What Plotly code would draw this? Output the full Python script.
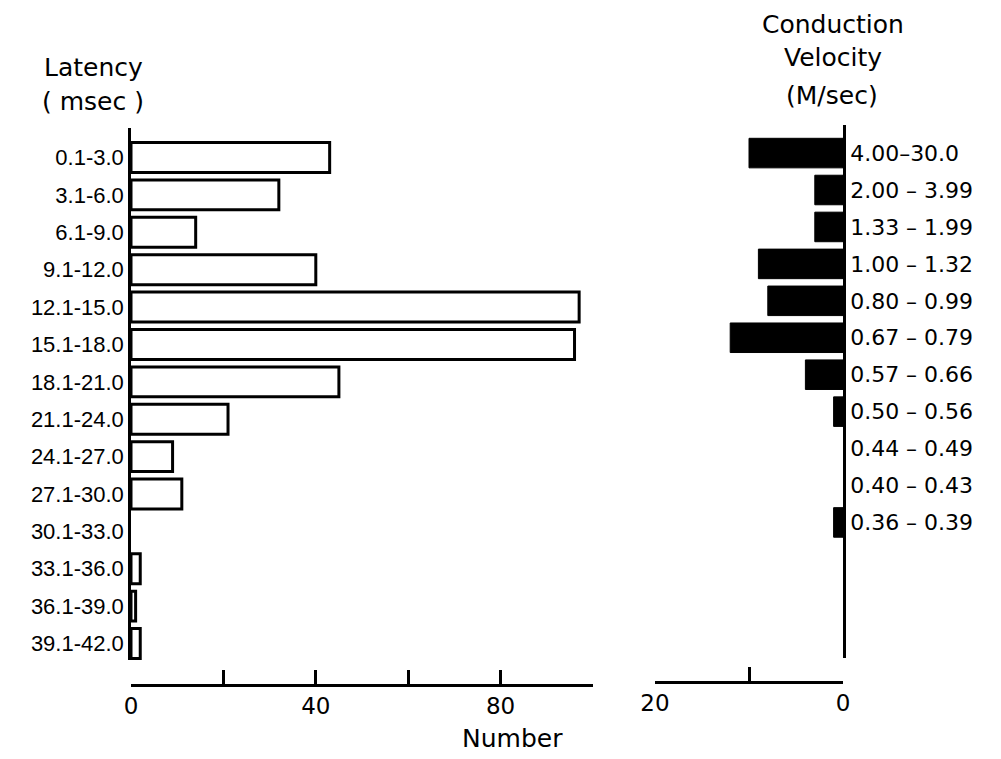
import plotly.graph_objects as go

# ---- data ----
latency_labels = ["0.1-3.0", "3.1-6.0", "6.1-9.0", "9.1-12.0", "12.1-15.0", "15.1-18.0",
                  "18.1-21.0", "21.1-24.0", "24.1-27.0", "27.1-30.0", "30.1-33.0",
                  "33.1-36.0", "36.1-39.0", "39.1-42.0"]
latency_counts = [43, 32, 14, 40, 97, 96, 45, 21, 9, 11, 0, 2, 1, 2]

velocity_labels = ["4.00–30.0", "2.00 – 3.99", "1.33 – 1.99", "1.00 – 1.32", "0.80 – 0.99",
                   "0.67 – 0.79", "0.57 – 0.66", "0.50 – 0.56", "0.44 – 0.49",
                   "0.40 – 0.43", "0.36 – 0.39"]
velocity_counts = [10, 3, 3, 9, 8, 12, 4, 1, 0, 0, 1]

left_ticks = [0, 20, 40, 60, 80, 100]
left_ticktext = ["0", "", "40", "", "80", ""]
right_ticks = [0, 10, 20]
right_ticktext = ["0", "", "20"]

# page body has an 8px margin; compensate so the figure lands where the reference is
OFF = 8
W, H = 1001 - OFF, 759 - OFF
def px_x(p): return (p - OFF) / W
def px_y(p): return 1 - (p - OFF) / H

fig = go.Figure()
fig.add_trace(go.Bar(
    x=latency_counts, y=latency_labels, orientation="h",
    marker=dict(color="white",
                line=dict(color="black", width=[3 if v > 0 else 0 for v in latency_counts])),
    xaxis="x", yaxis="y", showlegend=False))
fig.add_trace(go.Bar(
    x=velocity_counts, y=velocity_labels, orientation="h",
    marker=dict(color="black",
                line=dict(color="black", width=[1 if v > 0 else 0 for v in velocity_counts])),
    xaxis="x2", yaxis="y2", showlegend=False))

tickfont_l = dict(family="Liberation Sans", size=22, color="black")
tickfont_r = dict(family="DejaVu Sans", size=22, color="black")
axfont = dict(family="DejaVu Sans", size=23, color="black")

common = dict(showgrid=False, zeroline=False, automargin=False,
              showline=True, linecolor="black", linewidth=2.5)

fig.update_layout(
    width=W, height=H,
    margin=dict(l=0, r=0, t=0, b=0, autoexpand=False),
    paper_bgcolor="white", plot_bgcolor="white",
    bargap=0.2,
    xaxis=dict(domain=[px_x(131), px_x(593)], range=[0, 100], anchor="free",
               position=px_y(685),
               ticks="inside", ticklen=14, tickwidth=2.5, tickcolor="black",
               tickvals=left_ticks, ticktext=left_ticktext, tickfont=axfont, **common),
    yaxis=dict(domain=[px_y(660), px_y(128)], anchor="x", range=[13.44, -0.79],
               type="category", ticks="", ticklen=0, tickfont=tickfont_l,
               ticklabelstandoff=0, **common),
    xaxis2=dict(domain=[px_x(655), px_x(843)], range=[20, 0], anchor="free",
                position=px_y(682),
                ticks="inside", ticklen=14, tickwidth=2.5, tickcolor="black",
                tickvals=right_ticks, ticktext=right_ticktext, tickfont=axfont, **common),
    yaxis2=dict(domain=[px_y(658), px_y(125)], anchor="x2", side="right",
                range=[13.67, -0.76], type="category", ticks="", ticklen=0,
                tickfont=tickfont_r, ticklabelstandoff=0, **common),
)

title_font = dict(family="DejaVu Sans", size=25, color="black")
annos = [
    ("Latency", 93, 67),
    ("( msec )", 93, 101),
    ("Conduction", 833, 24),
    ("Velocity", 833, 58),
    ("(M/sec)", 832, 95),
    ("Number", 512, 738),
]
for text, x, y in annos:
    fig.add_annotation(text=text, x=px_x(x), y=px_y(y), xref="paper", yref="paper",
                       xanchor="center", yanchor="middle", showarrow=False,
                       font=title_font)

fig.write_html("out.html")
